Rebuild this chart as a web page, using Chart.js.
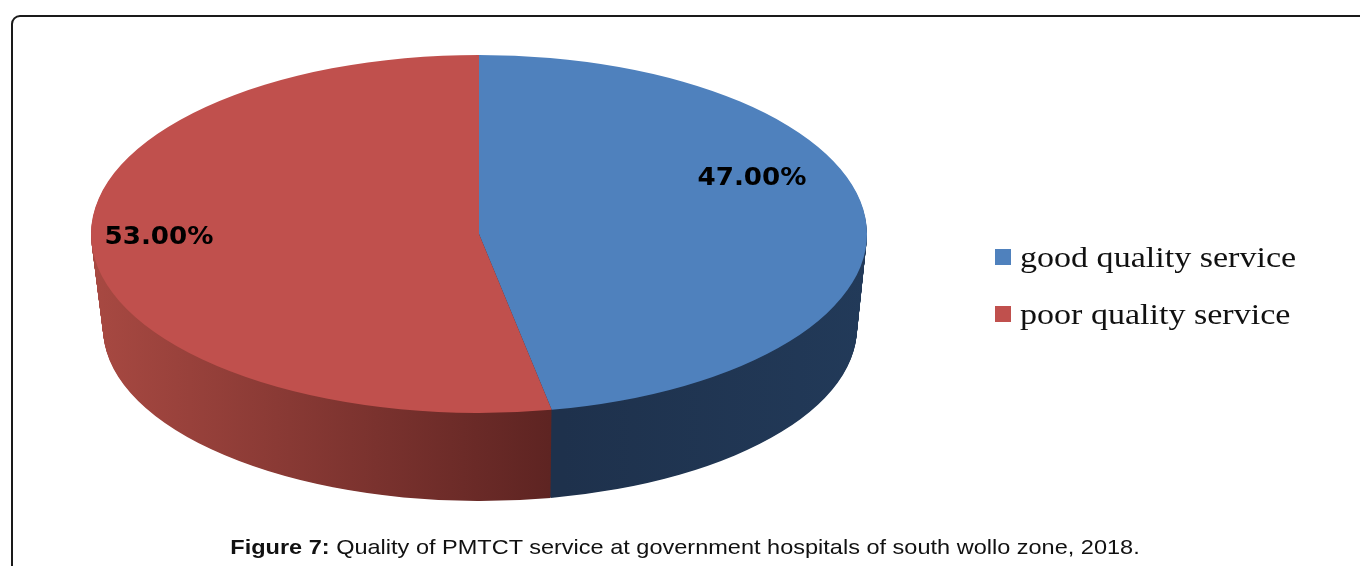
<!DOCTYPE html>
<html>
<head>
<meta charset="utf-8">
<script src="https://cdn.jsdelivr.net/npm/chart.js@4.4.1/dist/chart.umd.min.js"></script>
<style>
  html, body { margin: 0; padding: 0; background: #fff; width: 1360px; height: 566px; overflow: hidden; }
  #frame { position: absolute; left: 11px; top: 15px; width: 1420px; height: 640px;
           border: 2px solid #1a1a1a; border-radius: 9px; box-sizing: border-box; }
  #chart { position: absolute; left: 0; top: 0; }
  #caption { position: absolute; left: 0; width: 1370px; top: 535px; text-align: center;
             font-family: "Liberation Sans", Arial, sans-serif; font-size: 21px; color: #111;
             transform: scaleX(1.12); transform-origin: 685px 50%; white-space: nowrap; }
</style>
</head>
<body>
<div id="frame"></div>
<canvas id="chart" width="1360" height="566"></canvas>
<div id="caption"><b>Figure 7:</b> Quality of PMTCT service at government hospitals of south wollo zone, 2018.</div>
<script>
// Service quality split (percent of respondents)
const categories = ['good quality service', 'poor quality service'];
const shares = [47.00, 53.00];

// Face colours and side-wall shading for each slice
const topColors = ['#4F81BD', '#C0504D'];
const sideColors = [['#1E314C', '#223A59'], ['#A84942', '#5C2321']];
const sideRange = [[563, 867], [90, 563]];

// Elliptical disc: top face and the (slightly smaller) base face
const TOP = { cx: 479, cy: 234, rx: 388, ry: 179 };
const BASE = { cx: 480, cy: 328, rx: 377, ry: 173 };
const labelAnchors = [[752, 179], [159, 238]];
const TEXT_STRETCH = 1.12;

const lerp = (a, b, t) => a + (b - a) * t;
const discAt = t => ({
  cx: lerp(TOP.cx, BASE.cx, t), cy: lerp(TOP.cy, BASE.cy, t),
  rx: lerp(TOP.rx, BASE.rx, t), ry: lerp(TOP.ry, BASE.ry, t)
});

// Maps each circular arc element onto the ellipse of a given layer
function placeArc(ctx, el, g) {
  const R = el.outerRadius;
  ctx.translate(g.cx, g.cy);
  ctx.scale(g.rx / R, g.ry / R);
  ctx.translate(-el.x, -el.y);
}

const pie3d = {
  id: 'pie3d',
  beforeDatasetsDraw(chart) {
    const ctx = chart.ctx;
    const arcs = chart.getDatasetMeta(0).data;
    const steps = 100;
    // side wall: stacked shaded copies of the slices, from the base upwards
    for (let s = steps; s >= 1; s--) {
      const g = discAt(s / steps);
      arcs.forEach((el, i) => {
        ctx.save();
        placeArc(ctx, el, g);
        const sx = g.rx / el.outerRadius;
        const x1 = el.x + (sideRange[i][0] - g.cx) / sx;
        const x2 = el.x + (sideRange[i][1] - g.cx) / sx;
        const grad = ctx.createLinearGradient(x1, 0, x2, 0);
        grad.addColorStop(0, sideColors[i][0]);
        grad.addColorStop(1, sideColors[i][1]);
        const shade = Object.create(el);
        shade.options = Object.assign({}, el.options, { backgroundColor: grad, borderWidth: 0 });
        shade.draw(ctx);
        ctx.restore();
      });
    }
    // top face
    const g0 = discAt(0);
    arcs.forEach(el => {
      ctx.save();
      placeArc(ctx, el, g0);
      el.draw(ctx);
      ctx.restore();
    });
    return false;
  },
  afterDraw(chart) {
    const ctx = chart.ctx;
    const ds = chart.data.datasets[0];
    // value labels
    ds.data.forEach((v, i) => {
      ctx.save();
      ctx.translate(labelAnchors[i][0], labelAnchors[i][1]);
      ctx.scale(1.09, 1);
      ctx.fillStyle = '#000';
      ctx.font = 'bold 24px "DejaVu Sans", sans-serif';
      ctx.textAlign = 'center';
      ctx.textBaseline = 'middle';
      ctx.fillText(v.toFixed(2) + '%', 0, 0);
      ctx.restore();
    });
    // legend
    chart.data.labels.forEach((lab, i) => {
      const y = 257 + i * 57;
      ctx.save();
      ctx.fillStyle = ds.backgroundColor[i];
      ctx.fillRect(995, y - 8, 16, 16);
      ctx.translate(1020, y + 10);
      ctx.scale(1.135, 1);
      ctx.fillStyle = '#111';
      ctx.font = '30px "Liberation Serif", "Times New Roman", serif';
      ctx.textAlign = 'left';
      ctx.textBaseline = 'alphabetic';
      ctx.fillText(lab, 0, 0);
      ctx.restore();
    });
  }
};

new Chart(document.getElementById('chart'), {
  type: 'pie',
  data: {
    labels: categories,
    datasets: [{ data: shares, backgroundColor: topColors, borderWidth: 0 }]
  },
  options: {
    responsive: false,
    animation: false,
    devicePixelRatio: 1,
    plugins: { legend: { display: false }, tooltip: { enabled: false } }
  },
  plugins: [pie3d]
});
</script>
</body>
</html>
